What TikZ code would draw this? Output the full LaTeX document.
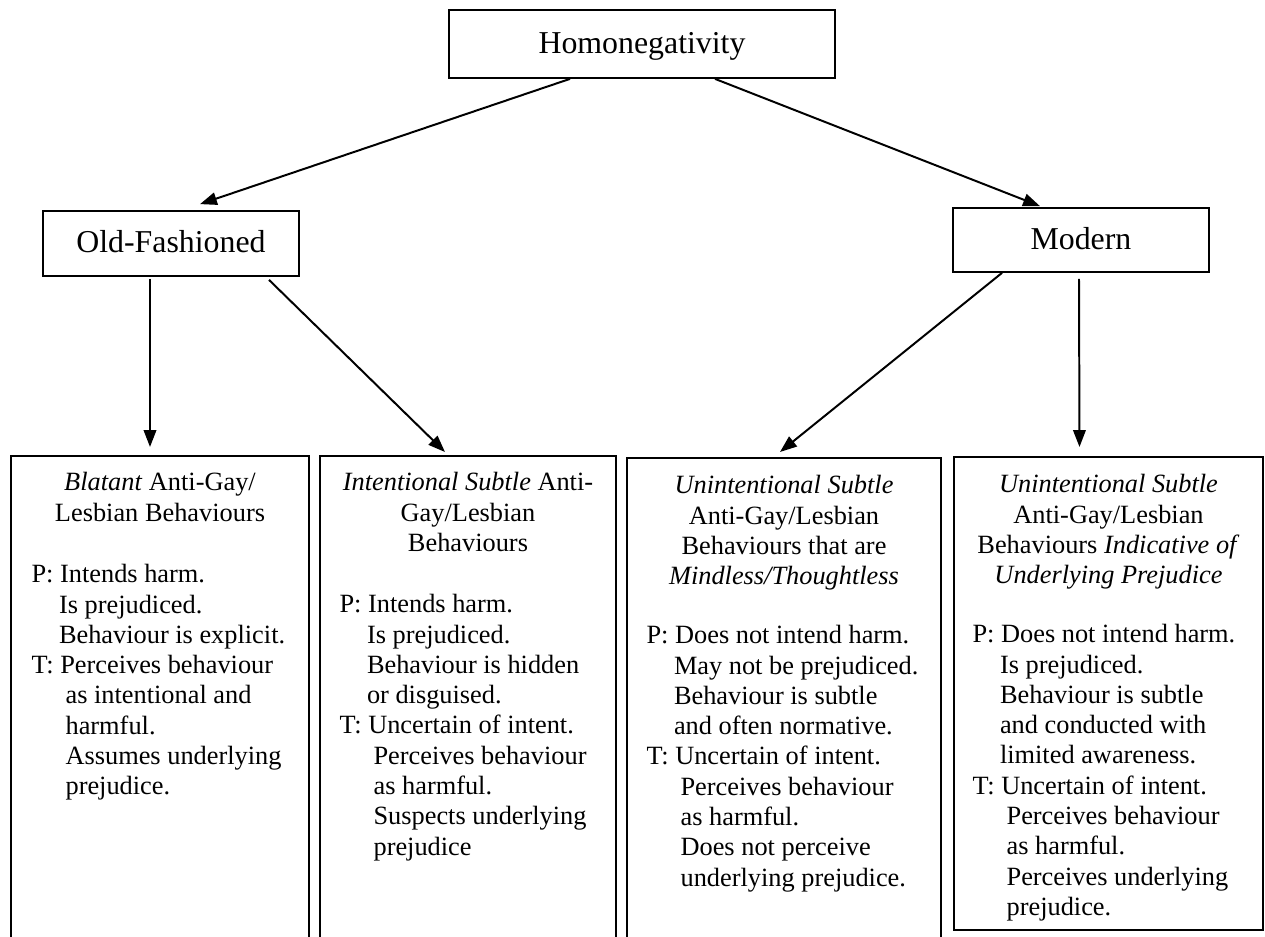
\documentclass[tikz,border=0pt]{standalone}
\usepackage{fontspec}
\setmainfont{Liberation Serif}
\usepackage{tikz}
\usetikzlibrary{positioning,arrows.meta}

\newcommand{\unitpx}{0.016cm}
\newcommand{\pind}{\hspace*{12.5pt}}
\newcommand{\tind}{\hspace*{15.5pt}}

\begin{document}
\begin{tikzpicture}[x=0.016cm,y=-0.016cm,
	box/.style={rectangle,draw=black,line width=0.8pt,inner sep=0pt},
	head/.style={box,font=\fontsize{14.5}{16}\selectfont,text height=9.9pt,text depth=1.7pt},
	leaf/.style={box,anchor=north,minimum height=520*\unitpx},
	ttl/.style={anchor=north,inner sep=0pt,align=center,font=\fontsize{12}{13.8}\selectfont},
	txt/.style={anchor=north west,inner sep=0pt,align=left,font=\fontsize{12}{13.8}\selectfont},
	arr/.style={-{Triangle[length=7.7pt,width=5.7pt]},line width=0.9pt}]
		\useasboundingbox (0,0) rectangle (1265,937);
		\clip (0,0) rectangle (1265,937);

		%top nodes
		\node[head,minimum width=386*\unitpx,minimum height=68*\unitpx] (homo) at (642,44) {Homonegativity};
		\node[head,minimum width=256*\unitpx,minimum height=65*\unitpx] (old) at (171,243.5) {Old-Fashioned};
		\node[head,minimum width=256*\unitpx,minimum height=64*\unitpx] (mod) at (1081,240) {Modern};

		%bottom boxes
		\node[leaf,minimum width=298*\unitpx] (b1) at (160,455) {};
		\node[leaf,minimum width=296*\unitpx] (b2) at (468,455) {};
		\node[leaf,minimum width=314*\unitpx] (b3) at (784,457) {};
		\node[leaf,minimum width=309*\unitpx,minimum height=473*\unitpx] (b4) at (1108.5,456) {};

		%box titles
		\node[ttl] (t1) at ([shift={(0,17)}]b1.north) {\textit{Blatant} Anti-Gay/\\Lesbian Behaviours};
		\node[ttl] (t2) at ([shift={(0,17)}]b2.north) {\textit{Intentional Subtle} Anti-\\Gay/Lesbian\\Behaviours};
		\node[ttl] (t3) at ([shift={(0,18)}]b3.north) {\textit{Unintentional Subtle}\\Anti-Gay/Lesbian\\Behaviours that are\\\textit{Mindless/Thoughtless}};
		\node[ttl] (t4) at ([shift={(0,18)}]b4.north) {\textit{Unintentional Subtle}\\Anti-Gay/Lesbian\\Behaviours \textit{Indicative of}\\\textit{Underlying Prejudice}};

		%box texts
		\node[txt] (p1) at ([shift={(21,109)}]b1.north west) {P: Intends harm.\\
			\pind Is prejudiced.\\
			\pind Behaviour is explicit.\\
			T: Perceives behaviour\\
			\tind as intentional and\\
			\tind harmful.\\
			\tind Assumes underlying\\
			\tind prejudice.};
		\node[txt] (p2) at ([shift={(20,139)}]b2.north west) {P: Intends harm.\\
			\pind Is prejudiced.\\
			\pind Behaviour is hidden\\
			\pind or disguised.\\
			T: Uncertain of intent.\\
			\tind Perceives behaviour\\
			\tind as harmful.\\
			\tind Suspects underlying\\
			\tind prejudice};
		\node[txt] (p3) at ([shift={(20,168)}]b3.north west) {P: Does not intend harm.\\
			\pind May not be prejudiced.\\
			\pind Behaviour is subtle\\
			\pind and often normative.\\
			T: Uncertain of intent.\\
			\tind Perceives behaviour\\
			\tind as harmful.\\
			\tind Does not perceive\\
			\tind underlying prejudice.};
		\node[txt] (p4) at ([shift={(19,168)}]b4.north west) {P: Does not intend harm.\\
			\pind Is prejudiced.\\
			\pind Behaviour is subtle\\
			\pind and conducted with\\
			\pind limited awareness.\\
			T: Uncertain of intent.\\
			\tind Perceives behaviour\\
			\tind as harmful.\\
			\tind Perceives underlying\\
			\tind prejudice.};

		%edges
		\draw[arr] ([shift={(-72,0)}]homo.south) -- ([shift={(29,-6)}]old.north);
		\draw[arr] ([shift={(73,0)}]homo.south) -- ([shift={(-41,-1)}]mod.north);
		\draw[arr] ([shift={(-21,2)}]old.south) -- ([shift={(-10,-8)}]b1.north);
		\draw[arr] ([shift={(98,3)}]old.south) -- ([shift={(-23,-3)}]b2.north);
		\draw[arr] ([shift={(-79,0)}]mod.south) -- ([shift={(-4,-5)}]b3.north);
		\draw[arr] ([shift={(-2,6)}]mod.south) -- ([shift={(-29,-9)}]b4.north);
	\end{tikzpicture}
\end{document}
